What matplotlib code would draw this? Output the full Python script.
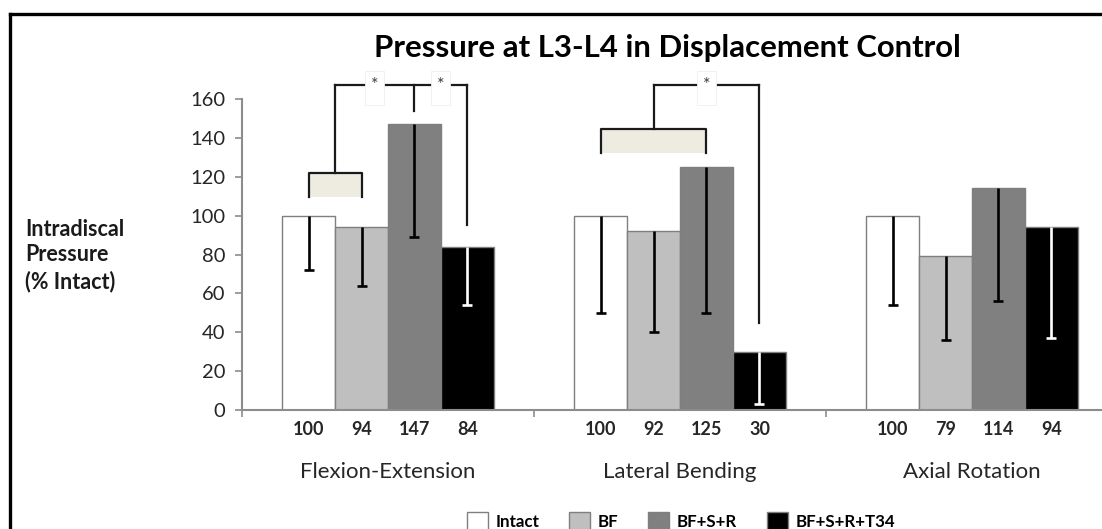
import matplotlib
matplotlib.use("Agg")
import matplotlib.pyplot as plt
import matplotlib.transforms as mtransforms
from matplotlib.lines import Line2D
from matplotlib.patches import Patch, Rectangle
import numpy as np

plt.rcParams['font.family'] = ['Lato', 'DejaVu Sans']

# ---- data ----
categories = ["Flexion-Extension", "Lateral Bending", "Axial Rotation"]
series = ["Intact", "BF", "BF+S+R", "BF+S+R+T34"]
intact = [100, 100, 100]
bf = [94, 92, 79]
bfsr = [147, 125, 114]
bfsrt34 = [84, 30, 94]
intact_err = [28, 50, 46]
bf_err = [30, 52, 43]
bfsr_err = [58, 75, 58]
bfsrt34_err = [30, 27, 57]
yticks = [0, 20, 40, 60, 80, 100, 120, 140, 160]

values = [intact, bf, bfsr, bfsrt34]
errors = [intact_err, bf_err, bfsr_err, bfsrt34_err]
colors = ["#FFFFFF", "#BFBFBF", "#808080", "#000000"]
errcolors = ["#000000", "#000000", "#000000", "#FFFFFF"]

W, H = 1102, 529
fig = plt.figure(figsize=(W / 100, H / 100), dpi=100)
# axes: left 242px, bottom at 410px, top at 99px, 3 categories * 292px
ax = fig.add_axes([242 / W, 1 - 410 / H, 876 / W, 311 / H])

x = np.arange(len(categories))
bw = 0.1815
offsets = [-1.5 * bw, -0.5 * bw, 0.5 * bw, 1.5 * bw]

for i, (vals, errs) in enumerate(zip(values, errors)):
    xs = x + offsets[i]
    ax.bar(xs, vals, width=bw, color=colors[i], edgecolor="#7F7F7F",
           linewidth=1.0, zorder=2, label=series[i])
    eb = ax.errorbar(xs, vals, yerr=[errs, [0] * len(errs)], fmt='none',
                     ecolor=errcolors[i], elinewidth=1.9, capsize=3.8,
                     capthick=1.9, zorder=3)
    for cl in eb[1]:
        if np.allclose(cl.get_ydata(), vals):
            cl.set_visible(False)

ax.set_xlim(-0.5, 2.5)
ax.set_ylim(0, 160)
ax.set_yticks(yticks)
ax.set_xticks([-0.5, 0.5, 1.5, 2.5])
ax.set_xticklabels([])
for s in ["top", "right"]:
    ax.spines[s].set_visible(False)
for s in ["left", "bottom"]:
    ax.spines[s].set_color("#8C8C8C")
    ax.spines[s].set_linewidth(1.5)
ax.tick_params(axis='y', direction='out', length=5, width=1.2, color="#8C8C8C",
               labelsize=14.5, labelcolor="#262626", pad=7)
ax.tick_params(axis='x', direction='out', length=5, width=1.2, color="#8C8C8C")

# value labels and category labels below axis
trans = mtransforms.blended_transform_factory(ax.transData, fig.transFigure)
for i, vals in enumerate(values):
    for j, v in enumerate(vals):
        ax.text(x[j] + offsets[i], 1 - 435 / H, f"{v}", transform=trans,
                ha='center', va='baseline', fontsize=13, fontweight='bold',
                color="#262626")
for j, c in enumerate(categories):
    ax.text(x[j], 1 - 478 / H, c, transform=trans, ha='center', va='baseline',
            fontsize=16, color="#262626")

# significance brackets
lk = dict(color="#1A1A1A", linewidth=1.6, clip_on=False, zorder=5)
top = 167
px_per_unit = 311 / 160
box_w = 19 / 292
box_lo = top - 20 / px_per_unit
box_hi = top + 14 / px_per_unit


def star(xc):
    ax.add_patch(Rectangle((xc - box_w / 2, box_lo), box_w, box_hi - box_lo,
                           facecolor='white', edgecolor='#EFEFEF', linewidth=0.6,
                           clip_on=False, zorder=6))
    ax.text(xc, top, "*", ha='center', va='center', fontsize=13,
            color="#404040", zorder=7)


# Flexion-Extension
g = 0
c0, c1, c2, c3 = [x[g] + o for o in offsets]
ax.add_patch(Rectangle((c0, 109.5), c1 - c0, 122 - 109.5, facecolor="#EEECE1",
                       edgecolor='none', clip_on=False, zorder=4))
ax.plot([c0, c0, c1, c1], [109.5, 122, 122, 109.5], **lk)
ax.plot([x[g] - bw, x[g] - bw], [122, top], **lk)
ax.plot([x[g] - bw, c3], [top, top], **lk)
ax.plot([c2, c2], [top, 154], **lk)
ax.plot([c3, c3], [top, 95], **lk)
star((x[g] - bw + c2) / 2)
star((c2 + c3) / 2)

# Lateral Bending
g = 1
c0, c1, c2, c3 = [x[g] + o for o in offsets]
ax.add_patch(Rectangle((c0, 132), c2 - c0, 144.5 - 132, facecolor="#EEECE1",
                       edgecolor='none', clip_on=False, zorder=4))
ax.plot([c0, c0, c2, c2], [132, 144.5, 144.5, 132], **lk)
ax.plot([c1, c1], [144.5, top], **lk)
ax.plot([c1, c3], [top, top], **lk)
ax.plot([c3, c3], [top, 44.6], **lk)
star((c1 + c3) / 2)

# title and y label
fig.text(667 / W, 1 - 57 / H, "Pressure at L3-L4 in Displacement Control",
         ha='center', va='baseline', fontsize=22.4, fontweight='bold', color="#000000")
for txt, yy in [("Intradiscal", 229), ("Pressure", 255), ("(% Intact)", 282)]:
    fig.text(25 / W, 1 - yy / H, txt, ha='left', va='center',
             fontsize=15.5, fontweight='bold', color="#1A1A1A")

# legend
handles = [Patch(facecolor=colors[i], edgecolor="#7F7F7F", linewidth=1.0)
           for i in range(len(series))]
fig.legend(handles, series, loc='center', bbox_to_anchor=(681 / W, 1 - 521 / H),
           ncol=4, frameon=False, handlelength=1.25, handleheight=1.25,
           handletextpad=0.45, columnspacing=1.75,
           prop=dict(weight='bold', size=12.2))

# outer border (top and left visible)
fig.add_artist(Line2D([10 / W, 1.0], [1 - 14 / H, 1 - 14 / H], color='black',
                      linewidth=2.4, transform=fig.transFigure))
fig.add_artist(Line2D([10 / W, 10 / W], [1 - 14 / H, 0], color='black',
                      linewidth=2.4, transform=fig.transFigure))

fig.savefig("out.png", dpi=100)
